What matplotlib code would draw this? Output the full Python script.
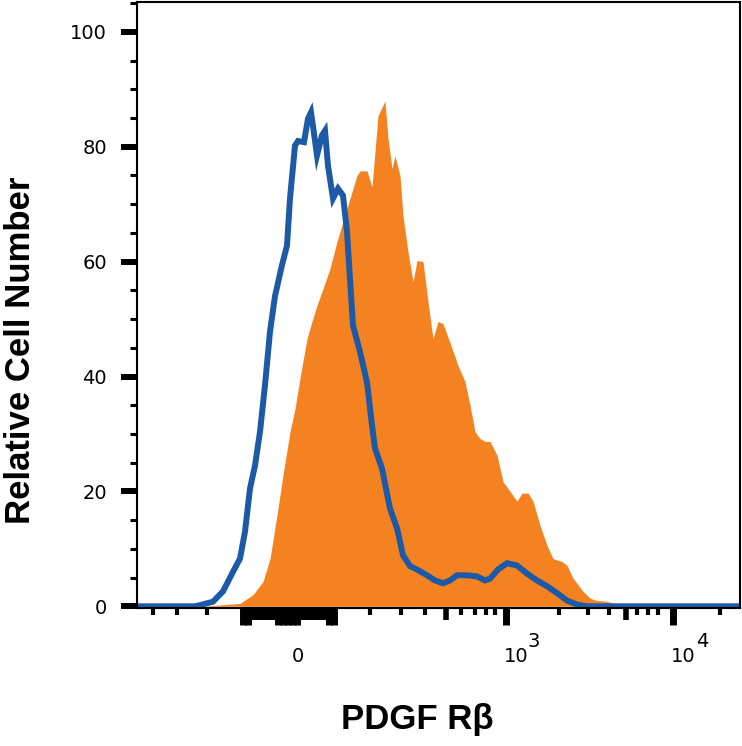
import numpy as np
import matplotlib
matplotlib.use("Agg")
import matplotlib.pyplot as plt
from matplotlib.ticker import MultipleLocator

# x in display channels (0 = left edge of plot, 603 = right edge)
iso_x = [0, 58, 63, 76, 86, 96, 103, 108, 113, 118, 123, 128, 133, 138, 145, 150,
         153, 158, 161, 167, 171, 174, 176, 180, 185, 188, 191, 196, 201, 206, 210,
         213, 216, 223, 230, 235, 238, 245, 253, 260, 266, 273, 281, 290, 298, 306,
         313, 320, 330, 340, 348, 353, 361, 370, 380, 390, 400, 410, 420, 430, 440,
         450, 603]
iso_y = [0, 0, 0.2, 0.8, 2.6, 6, 8.3, 13, 20.5, 24.5, 30.4, 38.5, 47.8, 54, 59.4, 62.8,
         71, 80.2, 81, 80.8, 84.9, 86, 83.6, 78.5, 82, 82.8, 76.7, 71, 72.7, 71.5, 65.2,
         57, 48.9, 44.3, 39, 31.5, 27.5, 24, 17, 13.6, 8.9, 7, 6.3, 5.4, 4.5, 4,
         4.5, 5.4, 5.4, 5.2, 4.5, 4.8, 6.4, 7.5, 7.1, 5.7, 4.5, 3.5, 2.3, 1, 0.3,
         0, 0]

pdgf_x = [0, 68, 73, 103, 116, 126, 133, 140, 146, 153, 158, 163, 170, 175, 180, 186,
          193, 200, 206, 213, 220, 223, 230, 235, 241, 248, 251, 255, 258, 263, 266,
          271, 276, 280, 286, 291, 296, 301, 306, 315, 321, 328, 333, 338, 343, 348,
          353, 360, 366, 373, 380, 385, 391, 396, 403, 410, 416, 425, 430, 436, 445,
          453, 460, 468, 478, 483, 488, 603]
pdgf_y = [0, 0, 0.1, 0.5, 2, 4.3, 8.3, 15.9, 22.8, 30.4, 34.4, 39.7, 46.6, 49.6, 52.4, 55.3,
          58.8, 63.5, 67, 71, 75, 75.8, 75.8, 73, 85.4, 88, 81.4, 76.2, 78.4, 75, 68,
          61.7, 56.5, 60.2, 60, 53, 46.6, 49.6, 49.2, 44.9, 41.9, 39.1, 35, 30.4, 29.2, 28.7,
          28.7, 26.3, 21.7, 20, 18.3, 19.7, 19.7, 18.3, 14.1, 10.6, 8.3, 7.8, 7.1, 4.9, 2.8,
          1.4, 1, 0.9, 0.5, 0.2, 0, 0]

# logicle-style tick marks (channel positions)
tall_ticks = [106, 111, 141, 146, 151, 156, 160, 192, 197, 369, 536]
mid_ticks = [116, 120, 124, 128, 132, 136, 164, 168, 172, 176, 180, 184, 188, 309, 489]
short_ticks = [16, 40, 70, 233, 264, 288, 324, 338, 349, 358, 422, 451, 472, 500, 511, 521, 583]

blue = "#1c5aa8"
orange = "#f58220"

fig = plt.figure(figsize=(7.42, 7.46), dpi=100)
ax = fig.add_axes([137/742, 1 - 608/746, 603/742, 606/746])

ax.fill_between(pdgf_x, pdgf_y, 0, color=orange, lw=0, zorder=1)
ax.plot(iso_x, iso_y, color=blue, lw=4.3, solid_joinstyle="miter", zorder=2)

ax.set_xlim(0, 603)
ax.set_ylim(-0.3, 105.2)

for s in ax.spines.values():
    s.set_linewidth(1.5)
    s.set_zorder(3)

ax.yaxis.set_major_locator(MultipleLocator(20))
ax.yaxis.set_minor_locator(MultipleLocator(5))
ax.tick_params(axis="y", which="major", length=11.5, width=4.3, pad=10, labelsize=14)
ax.tick_params(axis="y", which="minor", length=5, width=2.2)

ax.set_xticks(tall_ticks)
ax.set_xticks(short_ticks, minor=True)
ax.tick_params(axis="x", which="major", length=12, width=5, labelbottom=False)
ax.tick_params(axis="x", which="minor", length=5, width=3)

sec = ax.secondary_xaxis("bottom")
sec.set_xticks(mid_ticks)
sec.tick_params(axis="x", length=8.5, width=4, labelbottom=False)
sec.spines["bottom"].set_linewidth(1.5)

# x tick labels
lab_kw = dict(xycoords=("data", "axes fraction"), textcoords="offset points",
              ha="center", va="center", fontsize=14)
ax.annotate("0", xy=(161, 0), xytext=(0, -35), **lab_kw)
ax.annotate("10", xy=(379, 0), xytext=(0, -35), **lab_kw)
ax.annotate("3", xy=(397, 0), xytext=(0, -24), **lab_kw)
ax.annotate("10", xy=(546, 0), xytext=(0, -35), **lab_kw)
ax.annotate("4", xy=(565, 0), xytext=(0, -24), **lab_kw)

fig.text(21/742, 1 - 350/746, "Relative Cell Number", rotation=90, ha="center",
         va="center", fontsize=25, fontweight="bold",
         family=["Liberation Sans", "DejaVu Sans"])
fig.text(417/742, 1 - 720/746, "PDGF R\u03b2", ha="center", va="center",
         fontsize=25, fontweight="bold", family=["Liberation Sans", "DejaVu Sans"])

fig.savefig("out.png", dpi=100)
